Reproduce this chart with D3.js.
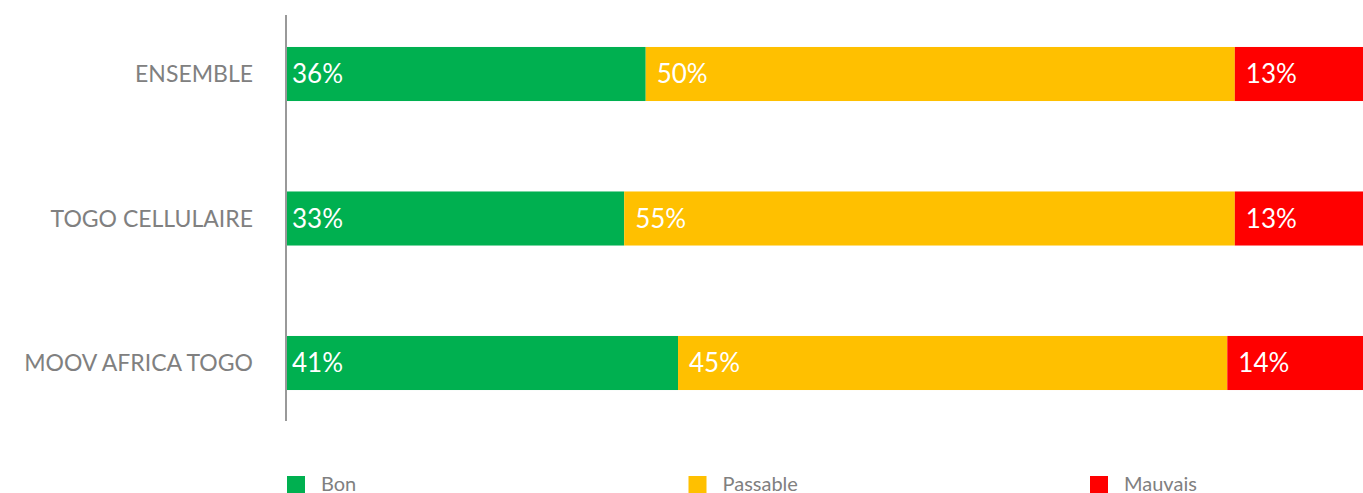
<!DOCTYPE html>
<html>
<head>
<meta charset="UTF-8">
<style>
  body { margin: 0; background: #fff; }
  svg { display: block; font-family: "Source Sans Pro", Lato, "Noto Sans", sans-serif; }
</style>
</head>
<body>
<svg></svg>
<script src="https://d3js.org/d3.v7.min.js"></script>
<script>
let width = 1363, height = 493;

// data (segment widths in % of the bar, and the printed labels)
let categories = ["ENSEMBLE", "TOGO CELLULAIRE", "MOOV AFRICA TOGO"];
let series = ["Bon", "Passable", "Mauvais"];
let bon      = [33.4, 31.4, 36.4];
let passable = [54.7, 56.7, 51.0];
let mauvais  = [11.9, 11.9, 12.6];
let bonLabels      = ["36%", "33%", "41%"];
let passableLabels = ["50%", "55%", "45%"];
let mauvaisLabels  = ["13%", "13%", "14%"];
let colors = ["#00b050", "#ffc000", "#ff0000"];

let svg = d3.select("svg")
    .attr("width", width)
    .attr("height", height);

let rows = categories.map((c, i) => ({
  cat: c,
  Bon: bon[i], Passable: passable[i], Mauvais: mauvais[i],
  labels: [bonLabels[i], passableLabels[i], mauvaisLabels[i]]
}));

let stacked = d3.stack().keys(series)(rows);

let x = d3.scaleLinear().domain([0, 100]).range([286, 1363]);
let y = d3.scaleBand().domain(categories).range([1.75, 435.25])
    .paddingInner(0.626).paddingOuter(0.313);
let color = d3.scaleOrdinal().domain(series).range(colors);

let layers = svg.append("g").selectAll("g")
  .data(stacked)
  .enter().append("g")
    .attr("fill", d => color(d.key));

layers.selectAll("rect")
  .data(d => d)
  .enter().append("rect")
    .attr("x", d => x(d[0]))
    .attr("y", d => y(d.data.cat))
    .attr("width", d => x(d[1]) - x(d[0]))
    .attr("height", y.bandwidth());

stacked.forEach((layer, si) => {
  svg.append("g").selectAll("text")
    .data(layer)
    .enter().append("text")
      .attr("x", d => x(d[0]) + (si === 0 ? 6 : 11))
      .attr("y", d => y(d.data.cat) + y.bandwidth() / 2)
      .attr("dy", "0.35em")
      .attr("fill", "#fff")
      .style("font-size", "26px")
      .text(d => d.data.labels[si]);
});

// category labels
svg.append("g").selectAll("text")
  .data(categories)
  .enter().append("text")
    .attr("x", 253)
    .attr("y", d => y(d) + y.bandwidth() / 2)
    .attr("dy", "0.35em")
    .attr("text-anchor", "end")
    .attr("fill", "#808080")
    .style("font-size", "23px")
    .text(d => d);

// axis line
svg.append("line")
  .attr("x1", 286).attr("x2", 286)
  .attr("y1", 15).attr("y2", 421)
  .attr("stroke", "#999")
  .attr("stroke-width", 2);

// legend
let lx = d3.scalePoint().domain(series).range([287, 1090]);
let legend = svg.append("g").selectAll("g")
  .data(series)
  .enter().append("g")
    .attr("transform", d => "translate(" + lx(d) + ",476)");

legend.append("rect")
  .attr("width", 18).attr("height", 17)
  .attr("fill", d => color(d));

legend.append("text")
  .attr("x", 34)
  .attr("y", 8)
  .attr("dy", "0.35em")
  .attr("fill", "#808080")
  .style("font-size", "20px")
  .text(d => d);
</script>
</body>
</html>
